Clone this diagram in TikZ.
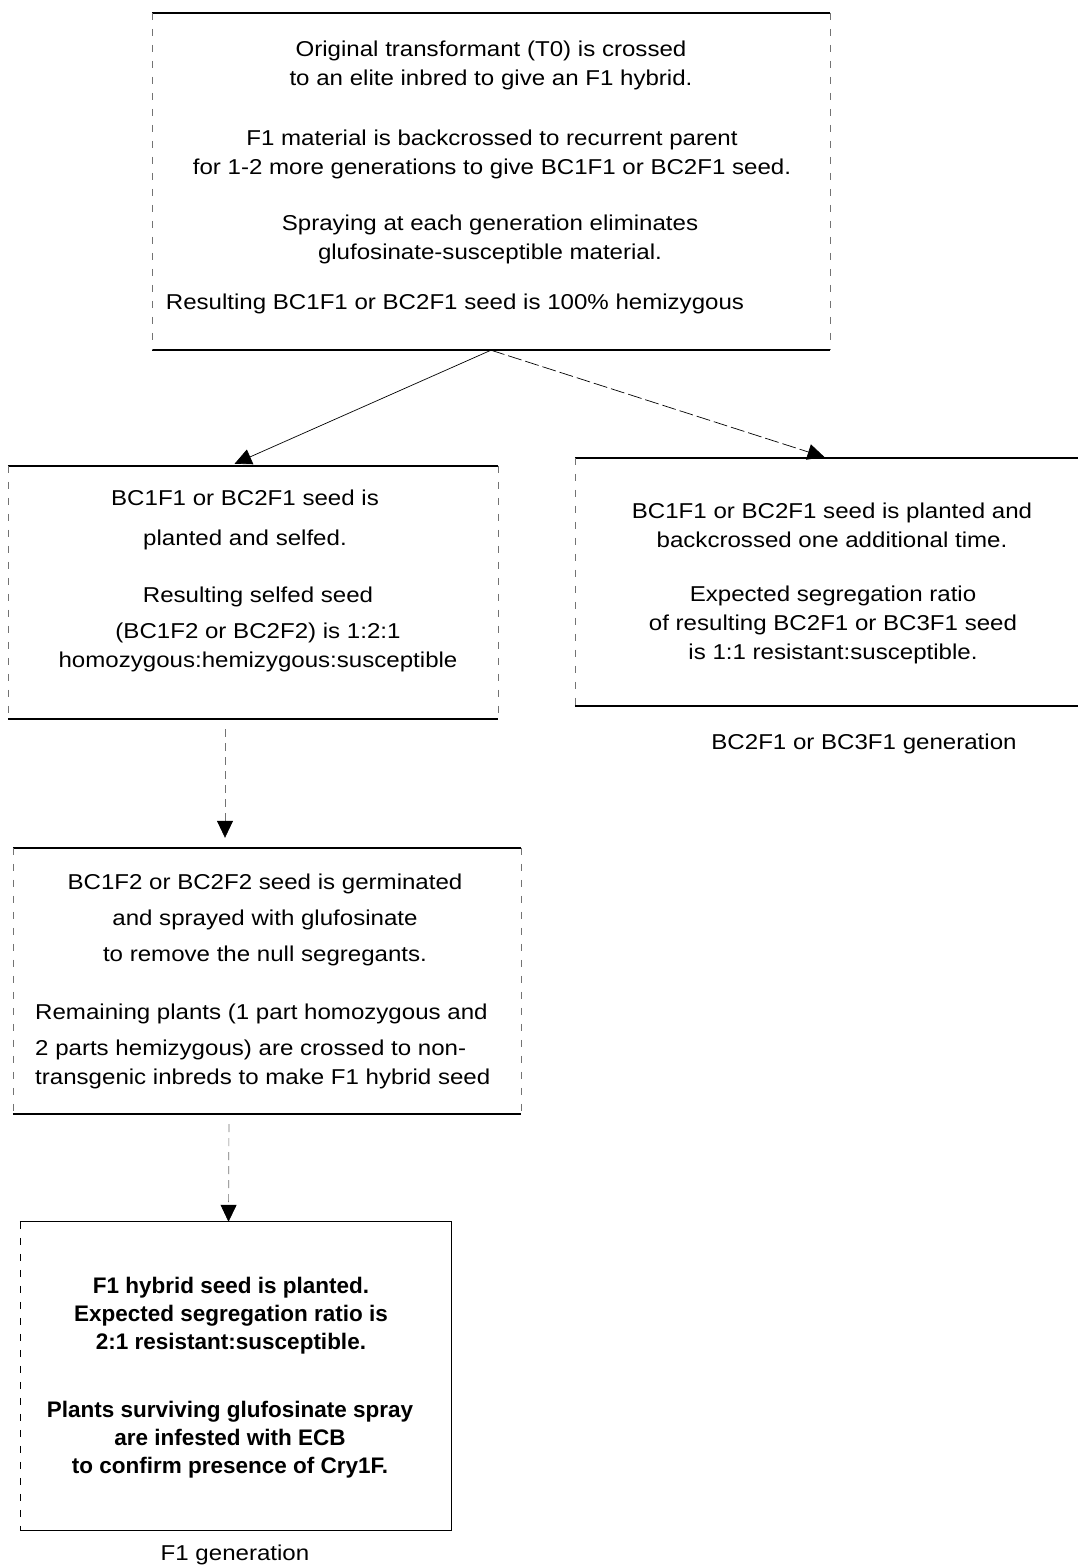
\documentclass[tikz,border=0pt]{standalone}
\usepackage{fontspec}
\setmainfont{Liberation Sans}[FakeStretch=1.12]
\newfontfamily\boldsans{Liberation Sans}
\usetikzlibrary{arrows.meta}

\tikzset{
  frame/.style={draw=none, inner sep=0pt},
  rule/.style={line width=1.5pt},
  side/.style={line width=0.6pt, black!55, dash pattern=on 7pt off 9pt},
  txt/.style={font=\fontsize{21.5pt}{29pt}\selectfont, align=center, inner sep=0pt},
  boldtxt/.style={font=\boldsans\bfseries\fontsize{22.5pt}{28pt}\selectfont, align=center, inner sep=0pt},
  link/.style={line width=0.7pt, -{Triangle[width=16pt,length=17pt,black]}},
  faint/.style={black!55, dash pattern=on 8pt off 6pt}
}

\begin{document}
\begin{tikzpicture}[x=1pt, y=-1pt]
\useasboundingbox[fill=white] (0,0) rectangle (1078,1568);

% boxes
\node[frame, minimum width=678pt, minimum height=337pt] (orig) at (491,181.5) {};
\node[frame, minimum width=490pt, minimum height=253pt] (self) at (253,592.5) {};
\node[frame, minimum width=503pt, minimum height=248pt] (back) at (826.5,582) {};
\node[frame, minimum width=508pt, minimum height=266pt] (germ) at (267,981) {};
\node[frame, minimum width=431pt, minimum height=308pt] (hyb) at (235.5,1376) {};

\foreach \b in {orig,self,back,germ} {
  \draw[rule] (\b.north west) -- (\b.north east);
  \draw[rule] (\b.south west) -- (\b.south east);
  \draw[side] (\b.north west) -- (\b.south west);
}
\foreach \b in {orig,self,germ}
  \draw[side] (\b.north east) -- (\b.south east);
\draw[rule, line width=1.3pt] (hyb.north west) -- (hyb.north east) -- (hyb.south east) -- (hyb.south west);
\draw[side, black] (hyb.north west) -- (hyb.south west);

% top box
\node[txt] (orig1) at (491,65.5) {Original transformant (T0) is crossed\\to an elite inbred to give an F1 hybrid.};
\node[txt] (orig2) at (492,154.5) {F1 material is backcrossed to recurrent parent\\for 1-2 more generations to give BC1F1 or BC2F1 seed.};
\node[txt] (orig3) at (490,239) {Spraying at each generation eliminates\\glufosinate-susceptible material.};
\node[txt] (orig4) at (455,304) {Resulting BC1F1 or BC2F1 seed is 100\% hemizygous};

% selfed branch
\node[txt] (self1) at (245,520) {BC1F1 or BC2F1 seed is\\[11pt]planted and selfed.};
\node[txt] (self2) at (258,629) {Resulting selfed seed\\[7pt](BC1F2 or BC2F2) is 1:2:1\\homozygous:hemizygous:susceptible};

% backcross branch
\node[txt] (back1) at (832,525) {BC1F1 or BC2F1 seed is planted and\\backcrossed one additional time.};
\node[txt] (back2) at (833,625) {Expected segregation ratio\\of resulting BC2F1 or BC3F1 seed\\is 1:1 resistant:susceptible.};
\node[txt] (gen3) at (864,744) {BC2F1 or BC3F1 generation};

% germination
\node[txt] (germ1) at (265,920) {BC1F2 or BC2F2 seed is germinated\\[7pt]and sprayed with glufosinate\\[7pt]to remove the null segregants.};
\node[txt, align=left, anchor=west] (germ2) at (35,1046) {Remaining plants (1 part homozygous and\\[7pt]2 parts hemizygous) are crossed to non-\\transgenic inbreds to make F1 hybrid seed};

% hybrid
\node[boldtxt] (hyb1) at (231,1316) {F1 hybrid seed is planted.\\Expected segregation ratio is\\2:1 resistant:susceptible.};
\node[boldtxt] (hyb2) at (230,1440) {Plants surviving glufosinate spray\\are infested with ECB\\to confirm presence of Cry1F.};
\node[txt] (gen1) at (235,1555) {F1 generation};

% arrows
\draw[link, shorten >=5pt] (orig.south) -- ([xshift=-23pt]self.north);
\draw[link, dash pattern=on 14pt off 4pt, shorten >=2pt] (orig.south) -- (back.north);
\draw[link, faint, shorten <=10pt, shorten >=10pt] ([xshift=-28pt]self.south) -- ([xshift=-42pt]germ.north);
\draw[link, faint, shorten <=10pt] ([xshift=-38pt]germ.south) -- ([xshift=-7pt]hyb.north);
\end{tikzpicture}
\end{document}
